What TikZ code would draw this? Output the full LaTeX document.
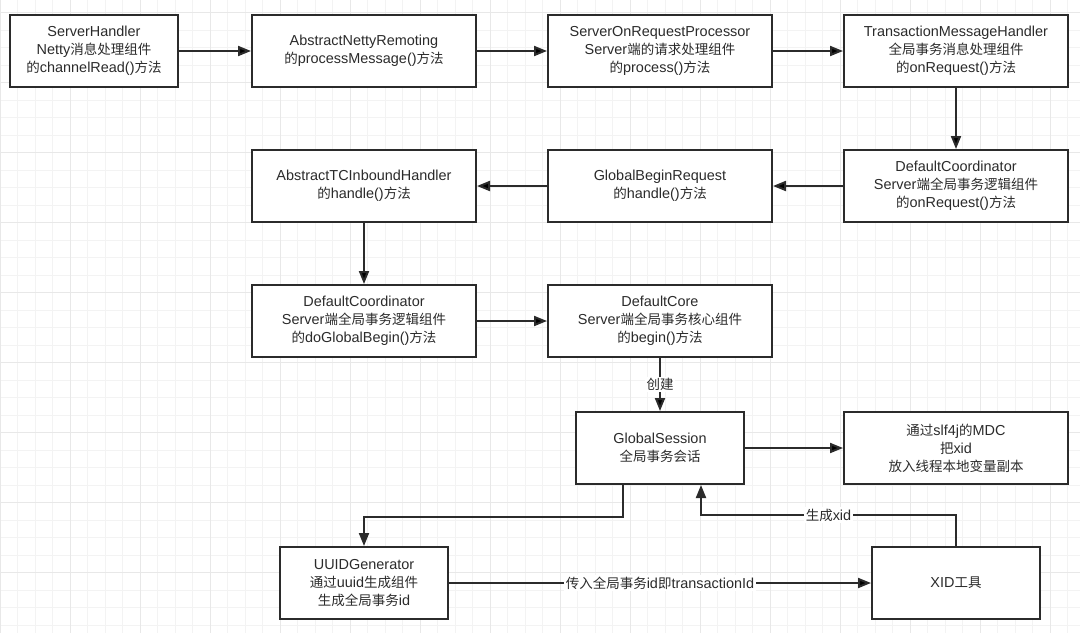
\documentclass[tikz,border=0pt]{standalone}
\usepackage{fontspec}
\setmainfont{Liberation Sans}[Scale=1.07]
\newfontfamily\latinfont{Liberation Sans}[Scale=1.07]
\newfontfamily\cjkfont{Noto Sans CJK SC}
\usetikzlibrary{positioning,arrows.meta}

% Han characters are set in the CJK face
\XeTeXinterchartokenstate=1
\newXeTeXintercharclass\hanclass
\newcount\hancode
\hancode="4E00
\loop
  \XeTeXcharclass\hancode=\hanclass
  \advance\hancode by 1
\ifnum\hancode<"A000 \repeat
\XeTeXinterchartoks 0 \hanclass = {\cjkfont}
\XeTeXinterchartoks 4095 \hanclass = {\cjkfont}
\XeTeXinterchartoks \hanclass 0 = {\latinfont}
\XeTeXinterchartoks \hanclass 4095 = {\latinfont}

\definecolor{ink}{HTML}{2B2B2B}
\definecolor{gridminor}{HTML}{F3F3F3}
\definecolor{gridmajor}{HTML}{E8E8E8}

\begin{document}
\begin{tikzpicture}[x=1pt,y=-1pt,node distance=135pt and 296pt,on grid,
    proc box/.style={draw=ink,line width=2pt,fill=white,text=ink,align=center,
      minimum height=72pt,inner sep=2pt,font=\fontsize{13.5}{18}\selectfont},
    wide box/.style={proc box,minimum width=224pt},
    small box/.style={proc box,minimum width=168pt},
    flow/.style={draw=ink,line width=2pt,-{Triangle[length=13pt,width=10pt]}},
    edge label/.style={fill=white,text=ink,inner sep=1.5pt,font=\fontsize{13.5}{18}\selectfont}]

    \useasboundingbox (0,0) rectangle (1080,633);

    % Background grid
    \fill[white] (0,0) rectangle (1080,633);
    \foreach \gx in {17.5,35,...,1080}
        \draw[gridminor,line width=0.8pt] (\gx,0) -- (\gx,633);
    \foreach \gy in {-4.8,12.7,...,640}
        \draw[gridminor,line width=0.8pt] (0,\gy) -- (1080,\gy);
    \foreach \gx in {0,70,...,1080}
        \draw[gridmajor,line width=1pt] (\gx,0) -- (\gx,633);
    \foreach \gy in {12.7,82.7,...,640}
        \draw[gridmajor,line width=1pt] (0,\gy) -- (1080,\gy);

    % Define vertices
    \node[wide box] (remoting) at (364,51) {AbstractNettyRemoting\\的processMessage()方法};
    \node[small box] (handler) [left=270pt of remoting] {ServerHandler\\Netty消息处理组件\\的channelRead()方法};
    \node[wide box] (processor) [right=of remoting] {ServerOnRequestProcessor\\Server端的请求处理组件\\的process()方法};
    \node[wide box] (msgHandler) [right=of processor] {TransactionMessageHandler\\全局事务消息处理组件\\的onRequest()方法};
    \node[wide box] (coordReq) [below=of msgHandler] {DefaultCoordinator\\Server端全局事务逻辑组件\\的onRequest()方法};
    \node[wide box] (beginReq) [left=of coordReq] {GlobalBeginRequest\\的handle()方法};
    \node[wide box] (inbound) [left=of beginReq] {AbstractTCInboundHandler\\的handle()方法};
    \node[wide box] (coordBegin) [below=of inbound] {DefaultCoordinator\\Server端全局事务逻辑组件\\的doGlobalBegin()方法};
    \node[wide box] (core) [right=of coordBegin] {DefaultCore\\Server端全局事务核心组件\\的begin()方法};
    \node[small box] (session) [below=127pt of core] {GlobalSession\\全局事务会话};
    \node[wide box] (mdc) [right=of session] {通过slf4j的MDC\\把xid\\放入线程本地变量副本};
    \node[small box] (uuid) [below=262pt of coordBegin] {UUIDGenerator\\通过uuid生成组件\\生成全局事务id};
    \node[small box] (xid) [below=of mdc] {XID工具};

    % Draw edges
    \path[flow]
        (handler) edge (remoting)
        (remoting) edge (processor)
        (processor) edge (msgHandler)
        (msgHandler) edge (coordReq)
        (coordReq) edge (beginReq)
        (beginReq) edge (inbound)
        (inbound) edge (coordBegin)
        (coordBegin) edge (core)
        (core) edge node[edge label] {创建} (session)
        (session) edge (mdc)
        (uuid) edge node[edge label] {传入全局事务id即transactionId} (xid);
    \draw[flow] ([xshift=-37pt]session.south) -- ++(0,32) -| (uuid.north);
    \draw[flow] (xid.north) -- ++(0,-31) -| node[edge label,pos=0.25] {生成xid} ([xshift=41pt]session.south);

\end{tikzpicture}
\end{document}
